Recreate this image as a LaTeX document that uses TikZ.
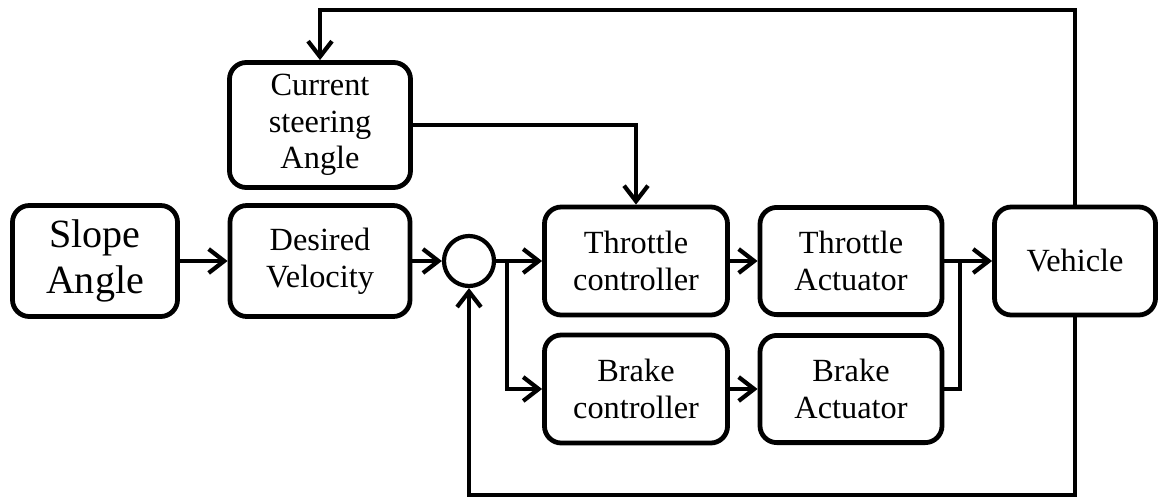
\documentclass[tikz,border=0pt]{standalone}
\usepackage{fontspec}
\setmainfont{Liberation Serif}
\usetikzlibrary{
    arrows.meta,
    positioning,
    calc
}
\tikzset{
  blk/.style  = {draw, line width=3.4pt, rounded corners=12pt,
                 align=center, inner sep=2pt},
  arr/.style  = {-{Straight Barb[length=11pt,width=17pt]}, line width=3pt},
  wire/.style = {line width=3pt}
}

\begin{document}
\begin{tikzpicture}[
  x=0.025cm, y=-0.025cm,
  txt/.style={font=\fontsize{23}{26}\selectfont},
  big/.style={font=\fontsize{28.5}{32.5}\selectfont},
  ctl/.style={blk, txt, minimum width=4.575cm, minimum height=2.7cm},
  act/.style={blk, txt, minimum width=4.55cm, minimum height=2.68cm}
]
\useasboundingbox (0,0) rectangle (1162,501);

\node[blk, big, minimum width=4.125cm, minimum height=2.775cm] (slope) at (95,261) {Slope\\Angle};
\node[blk, txt, minimum width=4.5cm, minimum height=2.775cm]   (des)   at (320,261) {Desired\\Velocity};
\node[blk, txt, minimum width=4.525cm, minimum height=3.125cm] (cur)   at (320,125) {Current\\steering\\Angle};
\node[draw, circle, line width=3pt, minimum size=1.25cm, inner sep=0pt] (sum) at (469,261) {};
\node[ctl] (thc) at (636,261) {Throttle\\controller};
\node[ctl] (brc) at (636,389) {Brake\\controller};
\node[act] (tha) at (851,261) {Throttle\\Actuator};
\node[act] (bra) at (851,389) {Brake\\Actuator};
\node[blk, txt, minimum width=4.025cm, minimum height=2.7cm] (veh) at (1075,261) {Vehicle};

\coordinate (split) at (507,261);
\coordinate (join)  at (960,261);
\coordinate (top)   at (1075,10);
\coordinate (bot)   at (1075,495);

\draw[arr] (slope) -- (des);
\draw[arr] (des)   -- (sum);
\draw[arr] (sum)   -- (thc);
\draw[arr] (split) |- (brc.west);
\draw[arr] (thc)   -- (tha);
\draw[arr] (brc)   -- (bra);
\draw[arr] (tha)   -- (veh);
\draw[wire] (bra.east) -| (join);

%% steering angle into throttle controller
\draw[arr] (cur.east) -| (thc.north);

%% feedback loops
\draw[arr] (veh.north) -- (top) -| (cur.north);
\draw[arr] (veh.south) -- (bot) -| (sum.south);

\end{tikzpicture}
\end{document}
